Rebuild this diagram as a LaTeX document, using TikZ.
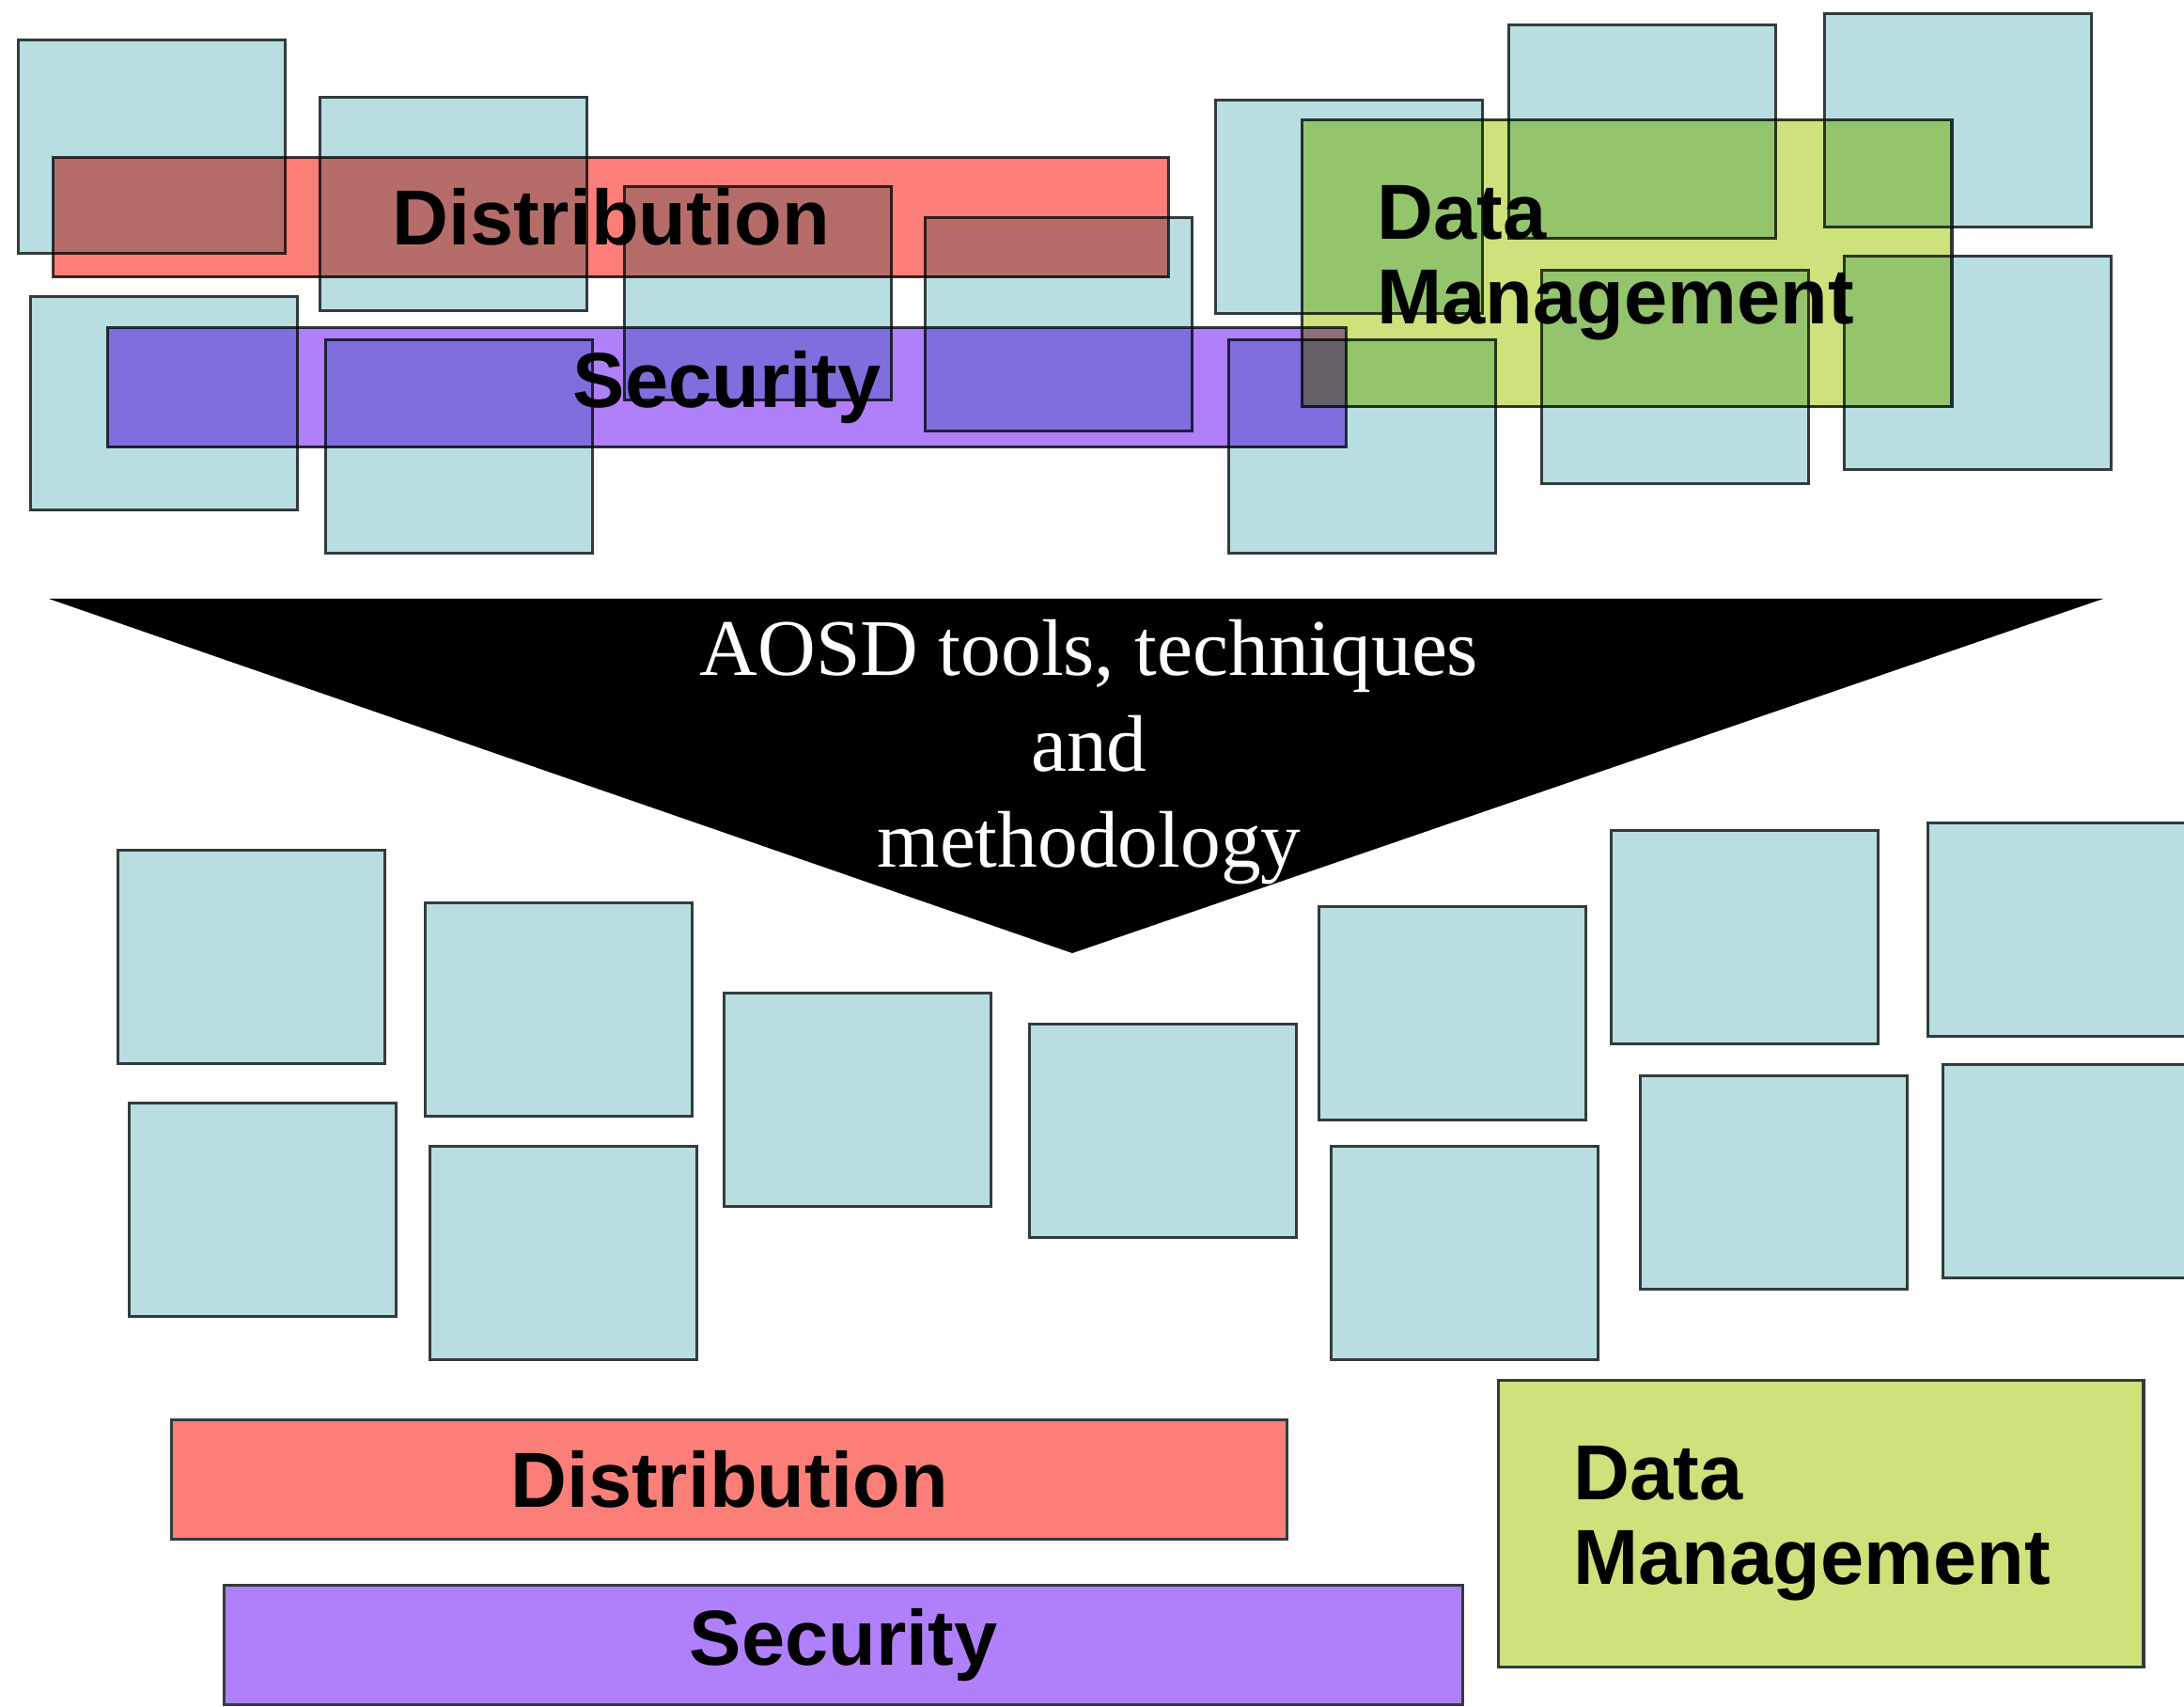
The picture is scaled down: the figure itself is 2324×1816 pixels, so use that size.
\documentclass[tikz,border=0pt]{standalone}
\usepackage{fontspec}
\setmainfont{Liberation Serif}
\newfontfamily\arialfont{Liberation Sans}
\usetikzlibrary{positioning}
\definecolor{boxblue}{RGB}{185,222,226}
\definecolor{boxline}{RGB}{50,60,60}
\definecolor{distred}{RGB}{252,126,120}
\definecolor{secpurple}{RGB}{176,127,250}
\definecolor{dmgreen}{RGB}{205,226,122}
\tikzset{
  unit/.style={
    rectangle,
    draw=boxline, line width=0.9pt,
    fill=boxblue,
    minimum width=2.84cm,
    minimum height=2.27cm,
    inner sep=0pt,
    anchor=north west},
  concern/.style={
    rectangle,
    draw=boxline, line width=0.9pt,
    inner sep=0pt,
    anchor=north west,
    font=\arialfont\bfseries\fontsize{23.6pt}{25.6pt}\selectfont},
  distbar/.style={concern, fill=distred,
    minimum width=11.86cm, minimum height=1.27cm},
  secbar/.style={concern, fill=secpurple,
    minimum width=13.17cm, minimum height=1.27cm},
  dmbox/.style={concern, fill=dmgreen,
    minimum height=3.05cm, text width=5.31cm,
    inner xsep=0.8cm, align=left},
  funnel/.style={fill=black},
  funneltext/.style={text=white, align=center,
    font=\fontsize{24.3pt}{29pt}\selectfont},
}

\begin{document}
\begin{tikzpicture}[x=0.01cm,y=-0.01cm]
	\useasboundingbox (0,0) rectangle (2324,1816);
	\clip (0,0) rectangle (2324,1816);

	% tangled modules
	\node[unit] (t1) at (18,41) {};
	\node[unit] (t2) at (339,102) {};
	\node[unit] (t3) at (663,197) {};
	\node[unit] (t4) at (983,230) {};
	\node[unit] (t5) at (31,314) {};
	\node[unit] (t6) at (345,360) {};
	\node[unit] (t7) at (1306,360) {};
	\node[unit] (t8) at (1292,105) {};
	\node[unit] (t9) at (1604,25) {};
	\node[unit] (t10) at (1940,13) {};
	\node[unit] (t11) at (1639,286) {};
	\node[unit] (t12) at (1961,271) {};

	\begin{scope}[blend mode=multiply]
		\node[distbar] (dist1) at (55,166) {Distribution};
		\node[secbar] (sec1) at (113,347) {Security};
		\node[dmbox] (dm1) at (1384,126) {Data\\Management};
	\end{scope}

	% funnel
	\coordinate (fl) at (52,637);
	\coordinate (fr) at (2238,637);
	\coordinate (tip) at (1141,1014);
	\fill[funnel] (fl) -- (fr) -- (tip) -- cycle;
	\node[funneltext] (aosd) at (1159,800) {AOSD tools, techniques\\and\\methodology};

	% separated modules
	\node[unit] (b1) at (124,903) {};
	\node[unit] (b2) at (451,959) {};
	\node[unit] (b3) at (769,1055) {};
	\node[unit] (b4) at (1094,1088) {};
	\node[unit] (b5) at (1402,963) {};
	\node[unit] (b6) at (1713,882) {};
	\node[unit] (b7) at (2050,874) {};
	\node[unit] (b8) at (136,1172) {};
	\node[unit] (b9) at (456,1218) {};
	\node[unit] (b10) at (1415,1218) {};
	\node[unit] (b11) at (1744,1143) {};
	\node[unit] (b12) at (2066,1131) {};

	\node[distbar] (dist2) at (181,1509) {Distribution};
	\node[secbar] (sec2) at (237,1685) {Security};
	\node[dmbox, minimum width=6.86cm, text width=5.26cm] (dm2) at (1593,1467) {Data\\Management};
\end{tikzpicture}
\end{document}
